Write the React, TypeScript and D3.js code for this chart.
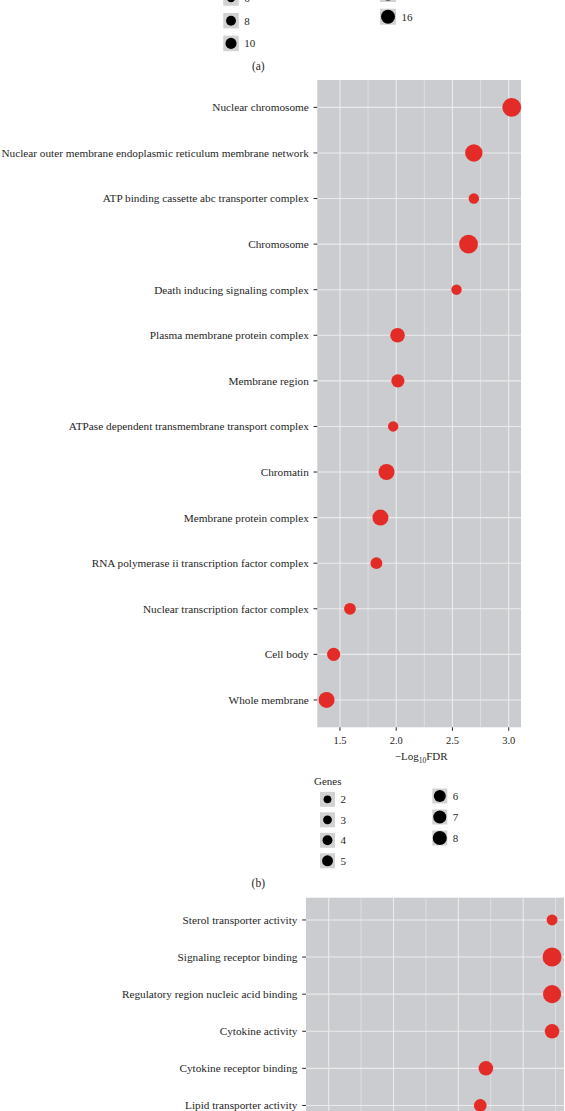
import React from "react";
import * as d3 from "d3";

// ---------- Panel (b) data : cellular component ----------
const termsB = [
  "Nuclear chromosome",
  "Nuclear outer membrane endoplasmic reticulum membrane network",
  "ATP binding cassette abc transporter complex",
  "Chromosome",
  "Death inducing signaling complex",
  "Plasma membrane protein complex",
  "Membrane region",
  "ATPase dependent transmembrane transport complex",
  "Chromatin",
  "Membrane protein complex",
  "RNA polymerase ii transcription factor complex",
  "Nuclear transcription factor complex",
  "Cell body",
  "Whole membrane",
];
const fdrB = [3.027, 2.69, 2.69, 2.643, 2.536, 2.012, 2.015, 1.973, 1.914, 1.86, 1.824, 1.589, 1.444, 1.381];
const genesB = [8, 7, 2, 8, 2, 5, 4, 2, 6, 6, 3, 3, 4, 6];
const xTicksB = [1.5, 2.0, 2.5, 3.0];
const xMinorB = [1.25, 1.75, 2.25, 2.75];
const legendB1 = [2, 3, 4, 5];
const legendB2 = [6, 7, 8];

// ---------- Panel (a) legend remnants ----------
const legendA1 = [6, 8, 10];
const legendA2 = [14, 16];

// ---------- Panel (c) data : molecular function ----------
const termsC = [
  "Sterol transporter activity",
  "Signaling receptor binding",
  "Regulatory region nucleic acid binding",
  "Cytokine activity",
  "Cytokine receptor binding",
  "Lipid transporter activity",
];
const fdrC = [5.446, 5.446, 5.446, 5.446, 4.425, 4.338];
const genesC = [3, 12, 11, 7, 7, 5];
const xDomainC = [1.65, 5.63];
const xTicksC = [2, 3, 4, 5];
const xMinorC = [2.5, 3.5, 4.5, 5.5];

const FONT = "'Liberation Serif', 'Times New Roman', serif";
const RED = "#e32c27";
const PANEL = "#cbcccf";
const GRID = "#ebebeb";
const KEY = "#d2d2d2";
const TEXT = "#262626";

function Legend({ values, cx, y0, step, r, box }: any) {
  return (
    <g>
      {values.map((v: number, i: number) => {
        const cy = y0 + i * step;
        return (
          <g key={v}>
            <rect x={cx - box / 2} y={cy - box / 2} width={box} height={box} fill={KEY} />
            <circle cx={cx} cy={cy} r={r(v)} fill="#000" />
            <text x={cx + box / 2 + 5.5} y={cy + 3.8} fontSize={11} fill={TEXT}>
              {v}
            </text>
          </g>
        );
      })}
    </g>
  );
}

export default function App() {
  // Panel (b)
  const [lo, hi] = d3.extent(fdrB) as [number, number];
  const padB = (hi - lo) * 0.05;
  const xB = d3.scaleLinear().domain([lo - padB, hi + padB]).range([317.3, 521]);
  const yB = d3.scalePoint<string>().domain(termsB).range([80, 727.3]).padding(0.6);
  const rB = d3.scaleLinear().domain([2, 8]).range([5.2, 9.4]);
  const rBLeg = (v: number) => rB(v) * 0.75;
  const [bx0, bx1] = xB.range();
  const [by0, by1] = yB.range();

  // Panel (a) legend
  const rA = (v: number) => 1 + 6 * Math.sqrt((v - 2) / 14);

  // Panel (c)
  const xC = d3.scaleLinear().domain(xDomainC).range([306, 564]);
  const yC = d3.scalePoint<string>().domain(termsC).range([897.7, 897.7 + 37.1 * 6.2]).padding(0.6);
  const rC = d3.scaleLinear().domain([2, 12]).range([5.0, 9.5]);
  const [cx0, cx1] = xC.range();
  const [cy0, cy1] = yC.range();

  return (
    <svg
      width={565}
      height={1111}
      style={{ position: "absolute", left: 0, top: 0, background: "#fff" }}
      fontFamily={FONT}
    >
      {/* ---------- panel (a) legend tail ---------- */}
      <Legend values={legendA1} cx={231} y0={-2} step={22.7} r={rA} box={15.5} />
      <Legend values={legendA2} cx={388} y0={-6} step={22.7} r={rA} box={16} />
      <text x={258.3} y={69.5} fontSize={11.5} textAnchor="middle" fill={TEXT}>
        (a)
      </text>

      {/* ---------- panel (b) ---------- */}
      <rect x={bx0} y={by0} width={bx1 - bx0} height={by1 - by0} fill={PANEL} />
      {xMinorB
        .filter((t) => xB(t) > bx0)
        .map((t) => (
          <line key={"mb" + t} x1={xB(t)} x2={xB(t)} y1={by0} y2={by1} stroke={GRID} strokeWidth={0.6} />
        ))}
      {xTicksB.map((t) => (
        <line key={"gb" + t} x1={xB(t)} x2={xB(t)} y1={by0} y2={by1} stroke={GRID} strokeWidth={1.1} />
      ))}
      {termsB.map((t) => (
        <line key={"hb" + t} x1={bx0} x2={bx1} y1={yB(t)} y2={yB(t)} stroke={GRID} strokeWidth={1.1} />
      ))}
      {termsB.map((t, i) => (
        <circle key={"pb" + t} cx={xB(fdrB[i])} cy={yB(t)} r={rB(genesB[i])} fill={RED} />
      ))}
      {termsB.map((t) => (
        <g key={"yb" + t}>
          <line x1={bx0 - 3.8} x2={bx0} y1={yB(t)} y2={yB(t)} stroke={TEXT} strokeWidth={1} />
          <text x={bx0 - 8.5} y={(yB(t) as number) + 3.9} fontSize={11.25} textAnchor="end" fill={TEXT}>
            {t}
          </text>
        </g>
      ))}
      {xTicksB.map((t) => (
        <g key={"xb" + t}>
          <line x1={xB(t)} x2={xB(t)} y1={by1} y2={by1 + 3.5} stroke={TEXT} strokeWidth={1} />
          <text x={xB(t)} y={by1 + 17} fontSize={10.5} textAnchor="middle" fill={TEXT}>
            {t.toFixed(1)}
          </text>
        </g>
      ))}
      <text x={(bx0 + bx1) / 2 + 2} y={by1 + 33} fontSize={11} textAnchor="middle" fill={TEXT}>
        −Log
        <tspan fontSize={7.5} dy={3}>
          10
        </tspan>
        <tspan dy={-3}>FDR</tspan>
      </text>

      {/* legend (b) */}
      <text x={314} y={785} fontSize={11} fill={TEXT}>
        Genes
      </text>
      <Legend values={legendB1} cx={327.5} y0={799.3} step={20.5} r={rBLeg} box={15} />
      <Legend values={legendB2} cx={439.8} y0={796} step={21} r={rBLeg} box={15} />
      <text x={258.3} y={887} fontSize={11.5} textAnchor="middle" fill={TEXT}>
        (b)
      </text>

      {/* ---------- panel (c) ---------- */}
      <rect x={cx0} y={cy0} width={cx1 - cx0} height={cy1 - cy0} fill={PANEL} />
      {xMinorC.map((t) => (
        <line key={"mc" + t} x1={xC(t)} x2={xC(t)} y1={cy0} y2={cy1} stroke={GRID} strokeWidth={0.6} />
      ))}
      {xTicksC.map((t) => (
        <line key={"gc" + t} x1={xC(t)} x2={xC(t)} y1={cy0} y2={cy1} stroke={GRID} strokeWidth={1.1} />
      ))}
      {termsC.map((t) => (
        <line key={"hc" + t} x1={cx0} x2={cx1} y1={yC(t)} y2={yC(t)} stroke={GRID} strokeWidth={1.1} />
      ))}
      {termsC.map((t, i) => (
        <circle key={"pc" + t} cx={xC(fdrC[i])} cy={yC(t)} r={rC(genesC[i])} fill={RED} />
      ))}
      {termsC.map((t) => (
        <g key={"yc" + t}>
          <line x1={cx0 - 3.8} x2={cx0} y1={yC(t)} y2={yC(t)} stroke={TEXT} strokeWidth={1} />
          <text x={cx0 - 8.5} y={(yC(t) as number) + 3.9} fontSize={11.25} textAnchor="end" fill={TEXT}>
            {t}
          </text>
        </g>
      ))}
    </svg>
  );
}
